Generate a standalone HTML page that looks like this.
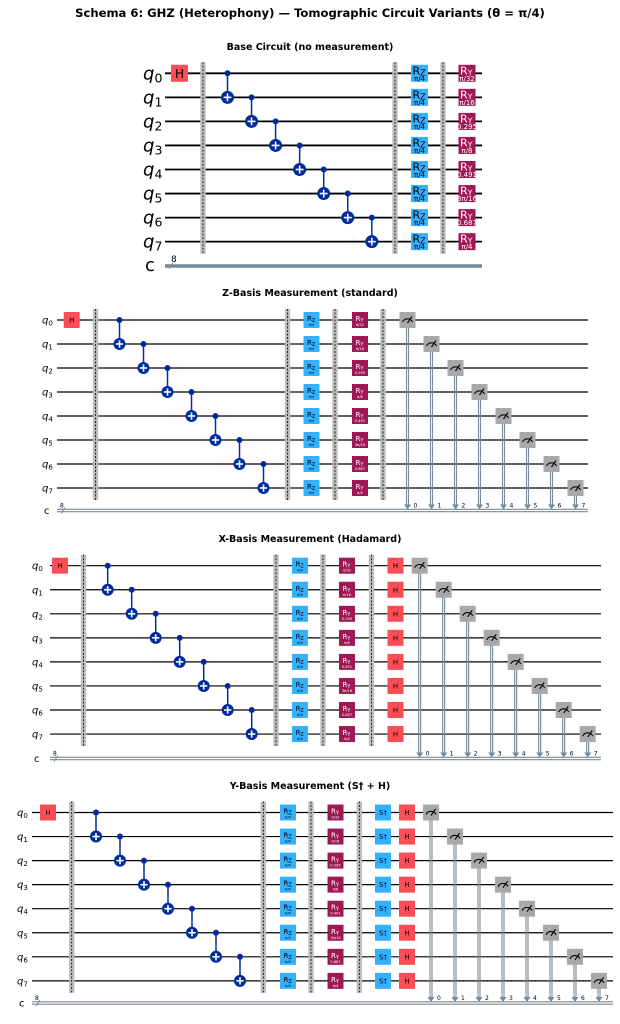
<!DOCTYPE html>
<html><head><meta charset="utf-8"><style>
html,body{margin:0;padding:0;background:#fff;}
svg{display:block;font-family:"DejaVu Sans","Liberation Sans",sans-serif;}
</style></head><body>
<svg id="s" width="620" height="1024" viewBox="0 0 620 1024" xmlns="http://www.w3.org/2000/svg">
<rect width="620" height="1024" fill="#fff"/>
<text x="310" y="17" text-anchor="middle" font-size="11.6" font-weight="bold">Schema 6: GHZ (Heterophony) — Tomographic Circuit Variants (θ = π/4)</text>
<text x="310" y="50" text-anchor="middle" font-size="9.5" font-weight="bold">Base Circuit (no measurement)</text>
<text x="310" y="296" text-anchor="middle" font-size="9.5" font-weight="bold">Z-Basis Measurement (standard)</text>
<text x="310" y="542" text-anchor="middle" font-size="9.5" font-weight="bold">X-Basis Measurement (Hadamard)</text>
<text x="310" y="789" text-anchor="middle" font-size="9.5" font-weight="bold">Y-Basis Measurement (S† + H)</text>
</svg>
<script>
var S=document.getElementById('s'),out='';
var ryL=['π/32','π/16','0.295','π/8','0.491','3π/16','0.687','π/4'];
function box(x,y,w,h,c){out+='<rect x="'+(x-w/2)+'" y="'+(y-h/2)+'" width="'+w+'" height="'+h+'" fill="'+c+'"/>';}
function panel(p){
  var y=function(i){return p.y0+i*p.dy;};
  for(var i=0;i<8;i++){
    out+='<line x1="'+p.xs+'" y1="'+y(i)+'" x2="'+p.xe+'" y2="'+y(i)+'" stroke="#000" stroke-width="'+(p.big?1.8:1.2)+'"/>';
    if(p.big) out+='<text x="'+p.lx+'" y="'+(y(i)+6)+'" font-size="18"><tspan font-style="italic">q</tspan><tspan font-size="12.5" dy="3">'+i+'</tspan></text>';
    else out+='<text x="'+p.lx+'" y="'+(y(i)+3.5)+'" font-size="10"><tspan font-style="italic">q</tspan><tspan font-size="7" dy="2">'+i+'</tspan></text>';
  }
  out+='<line x1="'+p.xs+'" y1="'+(p.cy-1.2)+'" x2="'+p.xe+'" y2="'+(p.cy-1.2)+'" stroke="#778899" stroke-width="1.2"/>';
  out+='<line x1="'+p.xs+'" y1="'+(p.cy+1.2)+'" x2="'+p.xe+'" y2="'+(p.cy+1.2)+'" stroke="#778899" stroke-width="1.2"/>';
  if(p.big){out+='<line x1="'+p.xs+'" y1="'+p.cy+'" x2="'+p.xe+'" y2="'+p.cy+'" stroke="#778899" stroke-width="2.5"/>';}
  out+='<text x="'+(p.lx+2)+'" y="'+(p.cy+(p.big?5:3.5))+'" font-size="'+(p.big?18:10)+'">c</text>';
  out+='<text x="'+(p.xs+(p.big?6:3))+'" y="'+(p.cy-(p.big?4:3))+'" font-size="'+(p.big?9:6)+'">8</text>';
  out+='<line x1="'+(p.xs+4)+'" y1="'+(p.cy+3)+'" x2="'+(p.xs+8)+'" y2="'+(p.cy-3)+'" stroke="#778899" stroke-width="1"/>';
  p.bars.forEach(function(b){
    out+='<rect x="'+(b-2.7)+'" y="'+(y(0)-11)+'" width="5.4" height="'+(7*p.dy+23)+'" fill="#bdbdbd"/>';
    out+='<line x1="'+b+'" y1="'+(y(0)-11)+'" x2="'+b+'" y2="'+(y(7)+12)+'" stroke="#000" stroke-width="0.8" stroke-dasharray="2,1.5"/>';
  });
  var w=p.big?17:16;
  box(p.h,y(0),w,w,'#fa4d56');
  out+='<text x="'+p.h+'" y="'+(y(0)+(p.big?4.5:2.5))+'" text-anchor="middle" font-size="'+(p.big?12:7)+'">H</text>';
  var r=p.big?6.5:6;
  for(var k=0;k<7;k++){
    var cx=p.cx0+k*p.dx;
    out+='<line x1="'+cx+'" y1="'+y(k)+'" x2="'+cx+'" y2="'+y(k+1)+'" stroke="#002d9c" stroke-width="1.5"/>';
    out+='<circle cx="'+cx+'" cy="'+y(k)+'" r="3" fill="#002d9c"/>';
    out+='<circle cx="'+cx+'" cy="'+y(k+1)+'" r="'+r+'" fill="#002d9c"/>';
    out+='<line x1="'+(cx-r*0.6)+'" y1="'+y(k+1)+'" x2="'+(cx+r*0.6)+'" y2="'+y(k+1)+'" stroke="#fff" stroke-width="1.6"/>';
    out+='<line x1="'+cx+'" y1="'+(y(k+1)-r*0.6)+'" x2="'+cx+'" y2="'+(y(k+1)+r*0.6)+'" stroke="#fff" stroke-width="1.6"/>';
  }
  for(var i=0;i<8;i++){
    [[p.rz,'#33b1ff','Z','π/4','#000'],[p.ry,'#9f1853','Y',ryL[i],'#fff']].forEach(function(g){
      box(g[0],y(i),w,w,g[1]);
      if(p.big){
        out+='<text x="'+(g[0]-7)+'" y="'+(y(i)+1)+'" font-size="11" fill="'+g[4]+'">R<tspan font-size="8" dy="1">'+g[2]+'</tspan></text>';
        out+='<text x="'+g[0]+'" y="'+(y(i)+7.5)+'" text-anchor="middle" font-size="7" fill="'+g[4]+'">'+g[3]+'</text>';
      } else {
        out+='<text x="'+(g[0]-4.5)+'" y="'+(y(i)+1)+'" font-size="7" fill="'+g[4]+'">R<tspan font-size="5" dy="1">'+g[2]+'</tspan></text>';
        out+='<text x="'+g[0]+'" y="'+(y(i)+6)+'" text-anchor="middle" font-size="3.6" fill="'+g[4]+'">'+g[3]+'</text>';
      }
    });
    (p.extra||[]).forEach(function(e){
      box(e[0],y(i),w,w,e[1]);
      out+='<text x="'+e[0]+'" y="'+(y(i)+2.5)+'" text-anchor="middle" font-size="7">'+e[2]+'</text>';
    });
  }
  if(p.m!=null){
    for(var i=0;i<8;i++){
      var mx=p.m+i*24, my=y(i);
      out+='<line x1="'+(mx-1)+'" y1="'+my+'" x2="'+(mx-1)+'" y2="'+(p.cy-5)+'" stroke="#778899" stroke-width="1.1"/>';
      out+='<line x1="'+(mx+1)+'" y1="'+my+'" x2="'+(mx+1)+'" y2="'+(p.cy-5)+'" stroke="#778899" stroke-width="1.1"/>';
      out+='<polygon points="'+(mx-3.5)+','+(p.cy-6)+' '+(mx+3.5)+','+(p.cy-6)+' '+mx+','+(p.cy-1)+'" fill="#778899"/>';
      out+='<text x="'+(mx+6)+'" y="'+(p.cy-3)+'" font-size="6">'+i+'</text>';
      box(mx,my,16,16,'#a8a8a8');
      out+='<path d="M'+(mx-5)+','+(my+2)+' A5.5,5.5 0 0 1 '+(mx+5)+','+(my+2)+'" fill="none" stroke="#000" stroke-width="1.1"/>';
      out+='<line x1="'+mx+'" y1="'+(my+3)+'" x2="'+(mx+4.5)+'" y2="'+(my-3.5)+'" stroke="#000" stroke-width="1.1"/>';
    }
  }
}
panel({big:true,y0:73.3,dy:24.05,xs:165,xe:482,cy:266,lx:143,h:179.5,bars:[203,395,443],cx0:227.5,dx:24.05,rz:419.5,ry:467,m:null});
panel({y0:320,dy:24,xs:57,xe:588,cy:510.5,lx:42,h:71.7,bars:[95.5,287.5,335,383],cx0:119.5,dx:24,rz:311.5,ry:360,m:407.5});
panel({y0:565.7,dy:24.05,xs:50,xe:601,cy:758.5,lx:32,h:60,bars:[83.5,276,323,371.5],cx0:107.7,dx:24,rz:300,ry:347,extra:[[395.5,'#fa4d56','H']],m:419.7});
panel({y0:812.5,dy:24.05,xs:32,xe:613,cy:1003,lx:17,h:48,bars:[71.7,263.3,311,359.3],cx0:96,dx:24,rz:288,ry:335.5,extra:[[383,'#33b1ff','S†'],[407,'#fa4d56','H']],m:431});
S.insertAdjacentHTML('beforeend',out);
</script>
</body></html>
